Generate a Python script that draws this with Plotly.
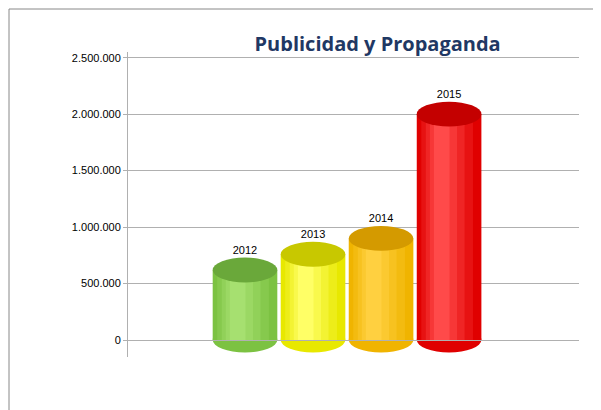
import plotly.graph_objects as go

years = ["2012", "2013", "2014", "2015"]
values = [620000, 760000, 900000, 2000000]
base_colors = ["#7cc242", "#e8e800", "#f0b400", "#e00000"]
light_colors = ["#a6e070", "#ffff66", "#ffd040", "#ff4a4a"]
top_colors = ["#6aa83a", "#c8c800", "#d49a00", "#c40000"]
tick_vals = [0, 500000, 1000000, 1500000, 2000000, 2500000]

def mix(c1, c2, t):
    a = [int(c1[i:i+2], 16) for i in (1, 3, 5)]
    b = [int(c2[i:i+2], 16) for i in (1, 3, 5)]
    return "#%02x%02x%02x" % tuple(int(a[k] + (b[k] - a[k]) * t) for k in range(3))

L, R, T, B = 120, 30, 44, 61
W, H = 601, 410
pw, ph = W - L - R, H - T - B

xs = list(range(len(years)))
fig = go.Figure()
bw = 0.95
widths = [bw, 0.76, 0.57, 0.4, 0.23]
for j, w in enumerate(widths):
    t = j / (len(widths) - 1)
    fig.add_trace(go.Bar(
        x=[x - (bw - w) * 0.15 for x in xs], y=values, width=w,
        marker=dict(color=[mix(base_colors[i], light_colors[i], t) for i in xs], line_width=0),
        hoverinfo="skip", showlegend=False))

ry = 110000
shapes = []
for i, v in enumerate(values):
    shapes.append(dict(type="circle", xref="x", yref="y", x0=i - bw / 2, x1=i + bw / 2,
                       y0=-ry, y1=ry, fillcolor=base_colors[i], line_width=0, layer="below"))
    shapes.append(dict(type="circle", xref="x", yref="y", x0=i - bw / 2, x1=i + bw / 2,
                       y0=v - ry, y1=v + ry, fillcolor=top_colors[i], line_width=0))
shapes.append(dict(type="rect", xref="paper", yref="paper",
                   x0=-(L - 1) / pw, x1=1 + (R - 2) / pw, y0=-(B - 2) / ph, y1=1 + (T - 1) / ph,
                   line=dict(color="#888888", width=1)))

fig.add_trace(go.Scatter(x=xs, y=[v + ry + 10000 for v in values], mode="text", text=years,
                         textposition="top center", textfont=dict(size=11, color="#000"),
                         hoverinfo="skip", showlegend=False))

fig.update_layout(
    width=W, height=H, margin=dict(l=L, r=R, t=T, b=B),
    barmode="overlay", plot_bgcolor="white", paper_bgcolor="white",
    separators=",.", shapes=shapes,
    font=dict(family="Liberation Sans, Arial", size=11, color="#000"),
    title=dict(text="<b>Publicidad y Propaganda</b>", x=0.615, y=0.93, xanchor="center",
               font=dict(family="Open Sans", size=20, color="#1f3864")),
    xaxis=dict(range=[-1.72, 4.91], showticklabels=False, showgrid=False, zeroline=False),
    yaxis=dict(range=[-150000, 2550000], tickvals=tick_vals, tickformat=",d",
               showgrid=True, gridcolor="#b0b0b0", zeroline=False,
               showline=True, linecolor="#b0b0b0", ticks="outside", ticklen=4, tickcolor="#b0b0b0"),
)
fig.write_html("out.html")
